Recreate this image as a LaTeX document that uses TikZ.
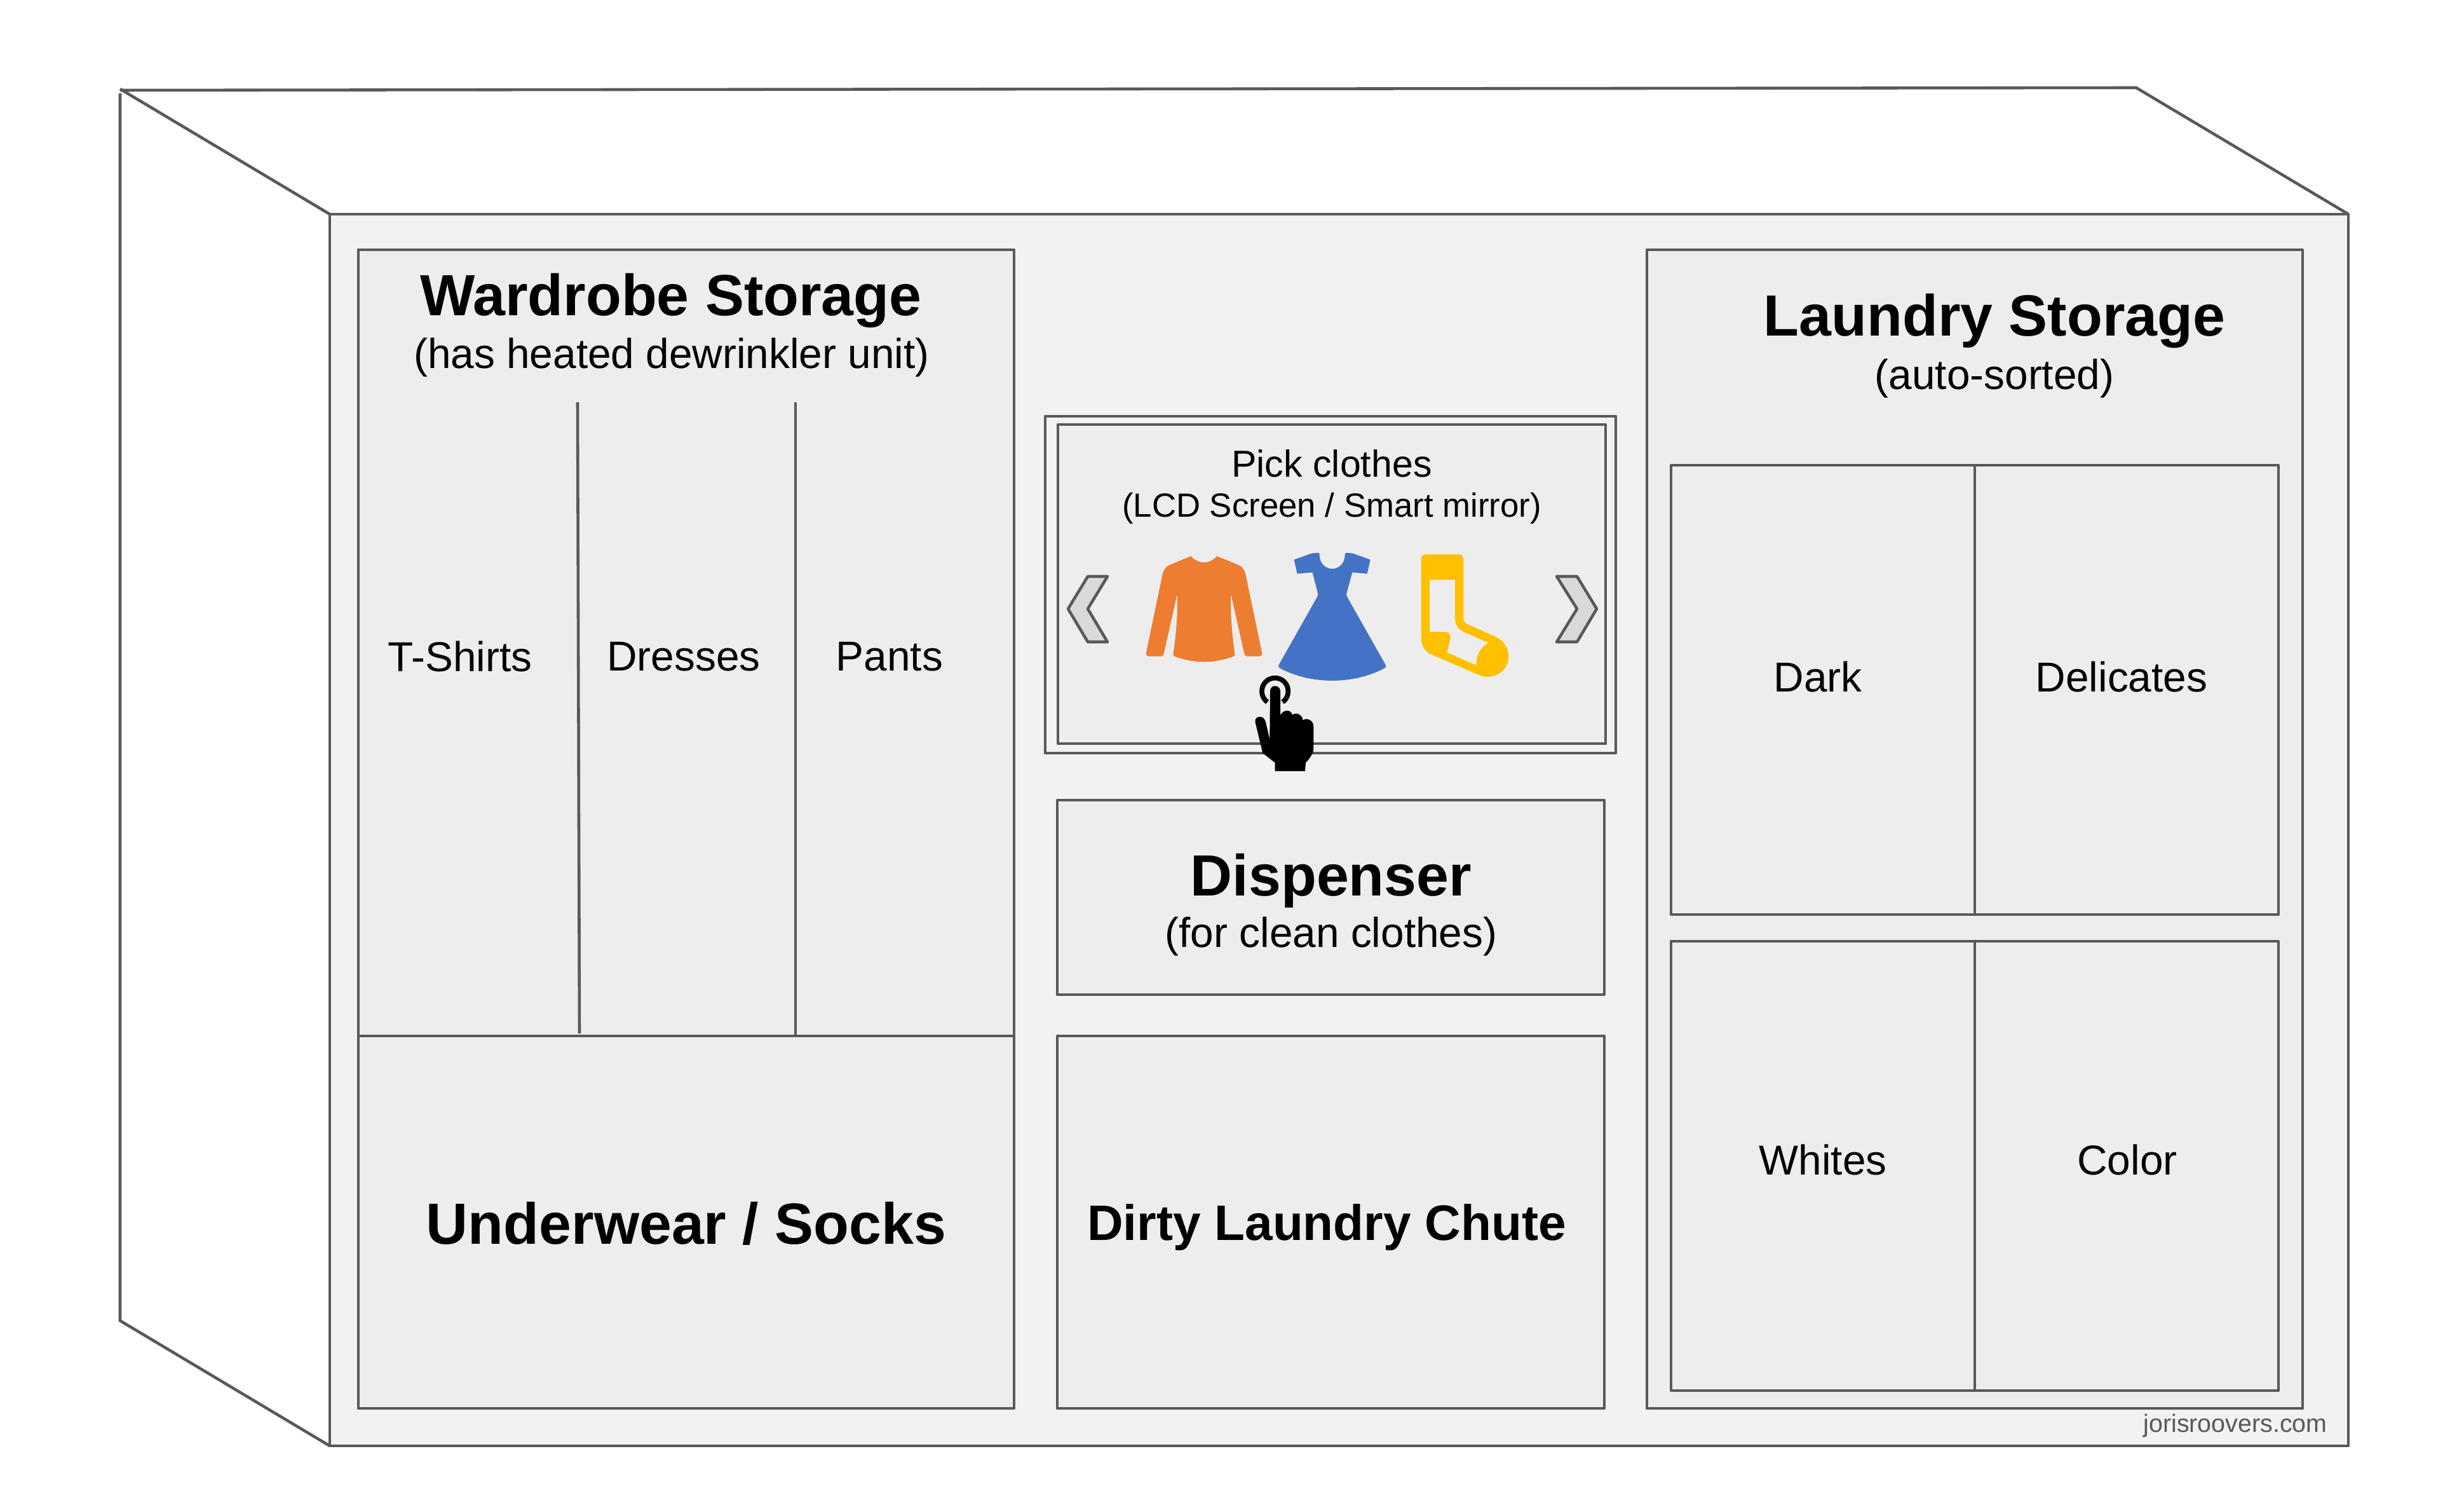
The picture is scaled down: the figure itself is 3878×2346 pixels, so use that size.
\documentclass[tikz,border=0pt]{standalone}
\usepackage{fontspec}
\setmainfont{Liberation Sans}
\definecolor{edge}{HTML}{595959}
\definecolor{facefill}{HTML}{F2F2F2}
\definecolor{boxfill}{HTML}{EDEDED}
\definecolor{shirtcol}{HTML}{ED7D31}
\definecolor{dresscol}{HTML}{4472C4}
\definecolor{sockcol}{HTML}{FFC000}
\definecolor{chevcol}{HTML}{D9D9D9}
\tikzset{
  panel/.style={draw=edge,line width=1.3pt,fill=boxfill,line join=round},
  wire/.style={draw=edge,line width=1.3pt},
  chev/.style={draw=edge,fill=chevcol,line width=1.3pt,line join=round},
  txt/.style={inner sep=0pt,align=center,text=black},
  big/.style={font=\fontsize{26}{30}\selectfont\bfseries},
  mid/.style={font=\fontsize{18.7}{22}\selectfont},
}
\begin{document}
\begin{tikzpicture}[x=0.01cm,y=-0.01cm]
\useasboundingbox (0,0) rectangle (3878,2346);
\fill[white] (0,0) rectangle (3878,2346);
% cabinet outline
\coordinate (bl) at (189,142);
\coordinate (br) at (3362,138);
\coordinate (fl) at (519,337);
\coordinate (fr) at (3696,337);
\coordinate (fb) at (519,2275);
\coordinate (fbr) at (3696,2275);
\coordinate (lb) at (189,2078);
\coordinate (lt) at (189,147);
\draw[wire] (bl) -- (br) -- (fr);
\draw[wire] (189,140) -- (fl);
\draw[wire] (lt) -- (lb) -- (fb);
\draw[panel,fill=facefill] (fl) rectangle (fbr);
% wardrobe section
\draw[panel] (564,393) rectangle (1596,2216);
\draw[wire] (564,1630) -- (1596,1630);
\draw[wire] (909,633) -- (912,1626);
\draw[wire] (1252,633) -- (1252,1630);
\node[txt,big] (wardrobe) at (1056,473) {Wardrobe Storage};
\node[txt,mid] (wardsub) at (1057,562) {(has heated dewrinkler unit)};
\node[txt,mid] (tshirts) at (724,1033) {T-Shirts};
\node[txt,mid] (dresses) at (1076,1033) {Dresses};
\node[txt,mid] (pants) at (1400,1033) {Pants};
\node[txt,big] (under) at (1080,1925) {Underwear / Socks};
% touch screen
\draw[panel,fill=facefill] (1645,655) rectangle (2543,1185);
\draw[panel] (1665,668) rectangle (2527,1170);
\node[txt,font=\fontsize{16.8}{20}\selectfont] (pick) at (2096,729) {Pick clothes};
\node[txt,font=\fontsize{15}{18}\selectfont] (lcd) at (2096,800) {(LCD Screen / Smart mirror)};
\draw[chev] (1712,907) -- (1743,907) -- (1712,958) -- (1743,1010) -- (1712,1010) -- (1681,958) -- cycle;
\draw[chev] (2450,907) -- (2482,907) -- (2513,958) -- (2482,1010) -- (2450,1010) -- (2482,958) -- cycle;
% clothing icons
\begin{scope}[shift={(1780,850)},x=0.01cm/3,y=-0.01cm/3]
\fill[shirtcol] (283,75) .. controls (300,95) and (325,105) .. (345,105) .. controls (365,105) and (390,95) .. (405,75) -- (510,118) .. controls (530,128) and (538,145) .. (542,165) -- (618,530) .. controls (620,542) and (615,548) .. (608,548) -- (548,548) .. controls (540,548) and (537,542) .. (535,535) -- (472,255) .. controls (468,350) and (478,450) .. (490,535) .. controls (491,545) and (488,548) .. (480,550) .. controls (390,582) and (300,582) .. (210,550) .. controls (202,548) and (199,545) .. (200,535) .. controls (212,450) and (222,350) .. (218,255) -- (155,535) .. controls (153,542) and (150,548) .. (142,548) -- (82,548) .. controls (75,548) and (70,542) .. (72,530) -- (148,165) .. controls (152,145) and (160,128) .. (180,118) -- cycle;
\fill[dresscol] (770,92) -- (850,63) .. controls (865,60) and (875,60) .. (885,60) .. controls (890,62) and (890,65) .. (890,70) .. controls (890,110) and (920,135) .. (950,135) .. controls (980,135) and (1010,110) .. (1010,70) .. controls (1010,65) and (1010,62) .. (1015,60) .. controls (1025,60) and (1035,60) .. (1050,63) -- (1130,92) -- (1115,158) -- (1045,152) -- (1018,250) .. controls (1016,258) and (1018,262) .. (1022,270) -- (1200,585) .. controls (1206,595) and (1204,600) .. (1195,605) .. controls (1050,682) and (850,682) .. (705,605) .. controls (696,600) and (694,595) .. (700,585) -- (878,270) .. controls (882,262) and (884,258) .. (882,250) -- (857,152) -- (785,158) -- cycle;
\fill (657,712) .. controls (657,698) and (668,688) .. (680,688) .. controls (693,688) and (705,698) .. (705,712) -- (705,828) .. controls (715,800) and (755,795) .. (762,825) .. controls (775,810) and (808,820) .. (812,850) .. controls (830,835) and (862,850) .. (862,880) -- (862,985) .. controls (860,1010) and (840,1035) .. (825,1050) -- (822,1090) -- (680,1090) -- (680,1050) -- (622,1005) -- (587,860) .. controls (580,830) and (625,822) .. (635,855) -- (655,940) -- cycle;
\draw[line width=0.0767cm,black] (644,764) .. controls (625,750) and (618,732) .. (618,712) .. controls (618,678) and (646,650) .. (680,650) .. controls (714,650) and (742,678) .. (742,712) .. controls (742,732) and (735,750) .. (716,764);
\end{scope}
\begin{scope}[shift={(2190,850)},x=0.01cm/3,y=-0.01cm/3]
\fill[sockcol,even odd rule] (160,67) -- (318,67) .. controls (332,67) and (340,78) .. (340,90) -- (340,370) .. controls (340,382) and (345,390) .. (358,396) -- (490,455) .. controls (530,473) and (553,510) .. (553,550) .. controls (553,605) and (505,645) .. (450,645) .. controls (435,645) and (425,642) .. (415,637) -- (190,540) .. controls (160,527) and (140,500) .. (140,460) -- (140,90) .. controls (140,78) and (148,67) .. (160,67) -- cycle
(180,187) -- (300,187) -- (300,370) .. controls (300,395) and (315,420) .. (340,432) -- (458,485) .. controls (420,505) and (400,540) .. (400,590) -- (262,530) -- (278,465) .. controls (282,447) and (270,433) .. (255,433) -- (180,433) -- cycle;
\end{scope}
% dispenser and chute
\draw[panel] (1664,1259) rectangle (2525,1565);
\node[txt,big] (disp) at (2095,1386) {Dispenser};
\node[txt,mid] (dispsub) at (2095,1473) {(for clean clothes)};
\draw[panel] (1664,1630) rectangle (2525,2216);
\node[txt,font=\fontsize{22.3}{26}\selectfont\bfseries] (chute) at (2088,1931) {Dirty Laundry Chute};
% laundry section
\draw[panel] (2592,393) rectangle (3624,2216);
\node[txt,big] (laundry) at (3139,505) {Laundry Storage};
\node[txt,mid] (auto) at (3139,595) {(auto-sorted)};
\draw[panel] (2630,732) rectangle (3586,1439);
\draw[wire] (3108,732) -- (3108,1439);
\draw[panel] (2630,1481) rectangle (3586,2188);
\draw[wire] (3108,1481) -- (3108,2188);
\node[txt,mid] (dark) at (2861,1065) {Dark};
\node[txt,mid] (delicates) at (3339,1065) {Delicates};
\node[txt,mid] (whites) at (2869,1825) {Whites};
\node[txt,mid] (color) at (3348,1825) {Color};
\node[txt,font=\fontsize{11.2}{14}\selectfont,text=edge] (credit) at (3518,2243) {jorisroovers.com};
\end{tikzpicture}
\end{document}
